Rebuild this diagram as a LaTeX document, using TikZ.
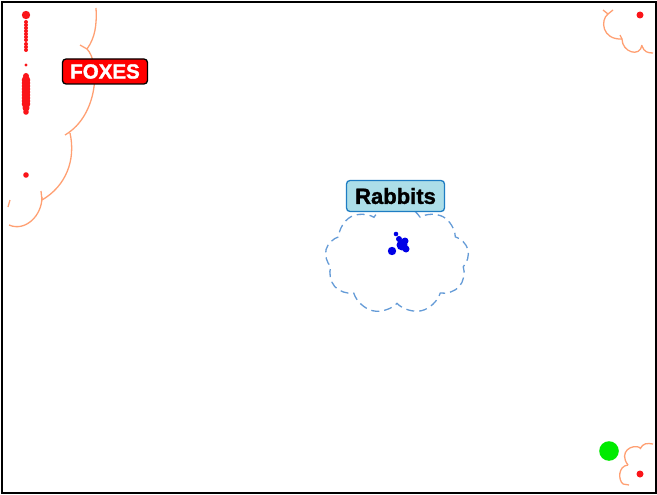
\documentclass[tikz,border=0pt]{standalone}
\usepackage{fontspec}
\setmainfont{Liberation Sans}
\usetikzlibrary{shapes.symbols}
\definecolor{foxred}{RGB}{250,20,25}
\definecolor{salmon}{RGB}{255,160,115}
\definecolor{rabblue}{RGB}{0,0,230}
\definecolor{cloudblue}{RGB}{100,155,215}
\definecolor{labcyan}{RGB}{172,222,232}
\definecolor{labedge}{RGB}{30,125,195}
\definecolor{dotgreen}{RGB}{0,235,0}
\begin{document}
\begin{tikzpicture}[x=1pt,y=-1pt,
  arcline/.style={salmon,line width=1.3pt},
  foxdot/.style={fill=foxred},
  rabdot/.style={fill=rabblue},
  labelbox/.style={rounded corners=3.5pt,line width=1.3pt,inner sep=0pt}]
\useasboundingbox (0,0) rectangle (657,495);
\fill[white] (0,0) rectangle (657,495);
\draw[line width=1.2pt] (2,2) rectangle (656,493);
% fox cloud (clipped arcs)
\draw[arcline] (96,8) .. controls (97,25) and (95,38) .. (87,49);
\draw[arcline] (80,45) -- (87,49);
\draw[arcline] (87,49) .. controls (100,62) and (99,115) .. (65,135);
\draw[arcline] (70,133) .. controls (76,160) and (66,186) .. (42,200);
\draw[arcline] (41,191) -- (42,200);
\draw[arcline] (42,197) .. controls (42,216) and (25,232) .. (9,225);
\draw[arcline] (10,200) -- (8,207);
% top right cloud
\draw[arcline] (603,10) -- (608,14) -- (613,10);
\draw[arcline] (608,14) .. controls (600,20) and (602,40) .. (622,39);
\draw[arcline] (620,35) -- (622,39);
\draw[arcline] (622,39) .. controls (622,52) and (640,58) .. (642,45);
\draw[arcline] (642,46) .. controls (644,52) and (648,53) .. (653,53);
% bottom right cloud
\draw[arcline] (653,444) .. controls (647,443) and (643,443) .. (640,449);
\draw[arcline] (641,448) .. controls (632,443) and (618,452) .. (628,465);
\draw[arcline] (628,465) .. controls (618,466) and (618,480) .. (623,484);
\draw[arcline] (623,484) -- (629,485);
% rabbit cloud
\node[cloud,draw=cloudblue,dash pattern=on 8pt off 5pt,line width=1.3pt,
  cloud puffs=9,cloud puff arc=120,aspect=1.3,minimum width=144pt,minimum height=110pt,inner sep=0pt]
  (rcloud) at (397,259) {};
% fox dots
\fill[foxdot] (26,15) circle (4.2);
\foreach \yy in {22,25,28,31,34,37,40,44,47,50} \fill[foxdot] (26,\yy) circle (2);
\fill[foxdot] (26,65) circle (1.6);
\foreach \yy in {80,83,...,104} \fill[foxdot] (26,\yy) circle (4.3);
\fill[foxdot] (26,76) circle (3);
\fill[foxdot] (26,108) circle (3.5);
\fill[foxdot] (26,112) circle (2.8);
\fill[foxdot] (26,175) circle (2.8);
% rabbit dots
\fill[rabdot] (402,245) circle (5.5);
\fill[rabdot] (405,241) circle (3.5);
\fill[rabdot] (399,239) circle (3);
\fill[rabdot] (396,234) circle (2.3);
\fill[rabdot] (392,251) circle (4.2);
\fill[rabdot] (406,249) circle (3.5);
% other dots
\fill[foxdot] (640,15) circle (3.5);
\fill[dotgreen] (609,451) circle (9.8);
\fill[foxdot] (640,474) circle (3.5);
% labels
\node[labelbox,draw=black,fill=red,text=white,minimum width=85pt,minimum height=25pt,
  font=\bfseries\fontsize{20.5}{20.5}\selectfont\addfontfeature{FakeBold=1.5}]
  (foxes) at (105,71.5) {FOXES};
\node[labelbox,draw=labedge,fill=labcyan,text=black,minimum width=98pt,minimum height=31pt,
  font=\bfseries\fontsize{22}{22}\selectfont\addfontfeature{FakeBold=1.5}]
  (rabbits) at (395.5,196) {Rabbits};
\end{tikzpicture}
\end{document}
